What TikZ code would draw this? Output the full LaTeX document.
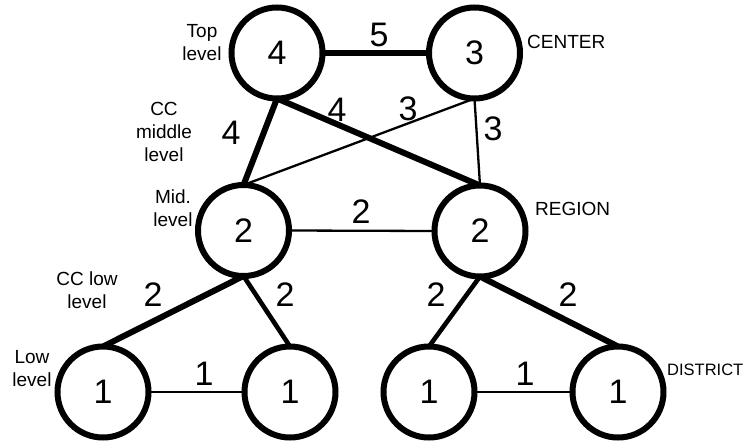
\documentclass[tikz,border=0pt]{standalone}
\usepackage{fontspec}
\setmainfont{Liberation Sans}
\begin{document}
\begin{tikzpicture}[x=1pt,y=-1pt,
  vtx/.style={circle, draw, line width=6pt, minimum size=91pt, inner sep=0pt, outer sep=0pt, font=\fontsize{34}{39}\selectfont},
  thk/.style={line width=6pt},
  med/.style={line width=4.6pt},
  thn/.style={line width=2.3pt},
  num/.style={font=\fontsize{34}{39}\selectfont, inner sep=0pt, anchor=base},
  lbl/.style={font=\fontsize{19}{23}\selectfont, align=center, inner sep=0pt},
  tag/.style={font=\fontsize{19}{23}\selectfont, inner sep=0pt, anchor=base west}]
\useasboundingbox (0,0) rectangle (753,442);
% vertices
\node[vtx] (A) at (277,53) {4};
\node[vtx] (B) at (474.5,53) {3};
\node[vtx] (C) at (243.5,230.5) {2};
\node[vtx] (D) at (480,231) {2};
\node[vtx] (E) at (103,392) {1};
\node[vtx] (F) at (290,392) {1};
\node[vtx] (G) at (429,392) {1};
\node[vtx] (H) at (618,392) {1};
% connectors
\draw[thk] (A.east) -- (B.west);
\draw[thk] (A.south) -- (C.north);
\draw[thk] (A.south) -- (D.north);
\draw[thn] (B.south) -- (C.north);
\draw[thn] (B.south) -- (D.north);
\draw[thn] (C.east) -- (D.west);
\draw[thk] (C.south) -- (E.north);
\draw[med] (C.south) -- (F.north);
\draw[med] (D.south) -- (G.north);
\draw[thk] (D.south) -- (H.north);
\draw[thn] (E.east) -- (F.west);
\draw[thn] (G.east) -- (H.west);
% edge weights
\node[num] (wAB) at (379,46) {5};
\node[num] (wAD) at (337,121) {4};
\node[num] (wBC) at (408,120) {3};
\node[num] (wBD) at (493,140) {3};
\node[num] (wAC) at (231,144) {4};
\node[num] (wCD) at (361,223) {2};
\node[num] (wCE) at (153,306) {2};
\node[num] (wCF) at (285,306) {2};
\node[num] (wDG) at (436,306) {2};
\node[num] (wDH) at (568,306) {2};
\node[num] (wEF) at (204,385) {1};
\node[num] (wGH) at (525,385) {1};
% level labels
\node[lbl] (lTop) at (202,42.7) {Top\\level};
\node[lbl] (lCCm) at (164,131.5) {CC\\middle\\level};
\node[lbl] (lMid) at (173,208.2) {Mid.\\level};
\node[lbl] (lCCl) at (87,290.5) {CC low\\level};
\node[lbl] (lLow) at (32,369) {Low\\level};
\node[tag] (tC) at (527,48) {CENTER};
\node[tag] (tR) at (535,215) {REGION};
\node[tag, font=\fontsize{16.5}{20}\selectfont] (tD) at (667,375) {DISTRICT};
\end{tikzpicture}
\end{document}
